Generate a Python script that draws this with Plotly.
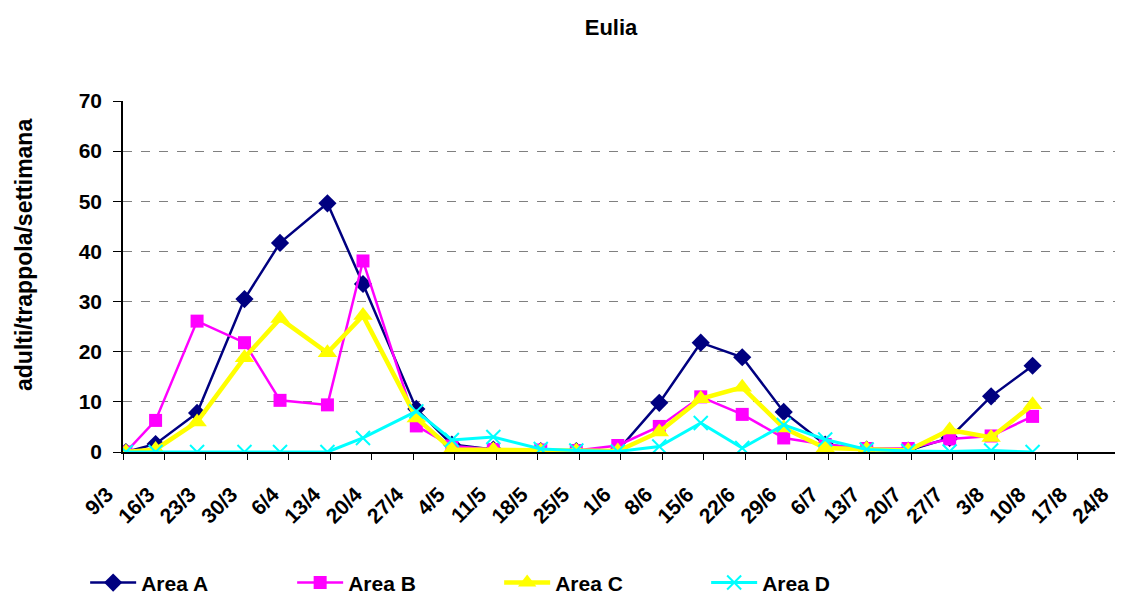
import plotly.graph_objects as go

dates = ["2007-03-09", "2007-03-14", "2007-03-21", "2007-03-29", "2007-04-04", "2007-04-12",
         "2007-04-18", "2007-04-27", "2007-05-03", "2007-05-10", "2007-05-18", "2007-05-24",
         "2007-05-31", "2007-06-07", "2007-06-14", "2007-06-21", "2007-06-28", "2007-07-05",
         "2007-07-12", "2007-07-19", "2007-07-26", "2007-08-02", "2007-08-09"]

area_a = [0, 1.6, 7.8, 30.5, 41.7, 49.6, 33.5, 8.6, 1.5, 0.5, 0.2, 0.2, 0.3, 9.8, 21.8, 18.9,
          8.0, 1.5, 0.5, 0.3, 2.8, 11.1, 17.2]
area_b = [0, 6.3, 26.1, 21.8, 10.3, 9.4, 38.1, 5.2, 1.2, 0.5, 0.4, 0.3, 1.3, 5.1, 11.0, 7.5,
          2.8, 1.5, 0.7, 0.7, 2.6, 3.2, 7.1]
area_c = [0, 0.5, 6.0, 18.8, 26.6, 19.8, 27.2, 6.8, 0.5, 0.4, 0.2, 0.2, 0.2, 4.0, 10.6, 12.9,
          4.8, 0.8, 0.6, 0.3, 4.4, 2.9, 9.4]
area_d = [0, 0, 0, 0, 0, 0, 2.8, 8.1, 2.4, 3.0, 0.6, 0.3, 0.1, 1.1, 5.8, 0.8,
          5.4, 2.5, 0.5, 0.2, 0.1, 0.3, 0]

series_names = ["Area A", "Area B", "Area C", "Area D"]
title_text = "Eulia"
y_title = "adulti/trappola/settimana"
x_start, x_end = "2007-03-09", "2007-08-24 02:00"

FONT = "Arial, Liberation Sans, sans-serif"
DAY = 24 * 3600 * 1000

common = dict(mode="lines+markers", xperiod=DAY, xperiodalignment="middle")

fig = go.Figure()
fig.add_trace(go.Scatter(x=dates, y=area_a, name=series_names[0], **common,
                         line=dict(color="#000080", width=2.5),
                         marker=dict(symbol="diamond", size=14, color="#000080")))
fig.add_trace(go.Scatter(x=dates, y=area_b, name=series_names[1], **common,
                         line=dict(color="#FF00FF", width=2.5),
                         marker=dict(symbol="square", size=13, color="#FF00FF")))
fig.add_trace(go.Scatter(x=dates, y=area_c, name=series_names[2], **common,
                         line=dict(color="#FFFF00", width=4.5),
                         marker=dict(symbol="triangle-up", size=17, color="#FFFF00")))
fig.add_trace(go.Scatter(x=dates, y=area_d, name=series_names[3], **common,
                         line=dict(color="#00FFFF", width=3),
                         marker=dict(symbol="x-thin-open", size=14, color="#00FFFF",
                                     line=dict(color="#00FFFF", width=2))))

# The page body has an 8px margin, so the figure is sized 8px smaller and everything is
# laid out 8px up/left of the reference positions.
fig.update_layout(
    width=1115, height=588,
    margin=dict(l=115, r=4, t=93, b=144, autoexpand=False),
    paper_bgcolor="white", plot_bgcolor="white",
    font=dict(family=FONT, size=16, color="black", weight="bold"),
    title=dict(text=title_text, x=603 / 1115, xref="container", y=1 - 19 / 588, yanchor="middle",
               xanchor="center", font=dict(family=FONT, size=22, weight="bold", color="black")),
    showlegend=True,
    legend=dict(orientation="h", x=-0.038, xanchor="left", y=-0.373, yanchor="middle",
                itemwidth=46, entrywidth=146, entrywidthmode="pixels",
                font=dict(family=FONT, size=21, weight="bold", color="black"),
                bgcolor="rgba(0,0,0,0)"),
    annotations=[dict(text=y_title, textangle=-90, xref="paper", yref="paper",
                      x=(16 - 115) / 996, y=(444 - 247) / 351, xanchor="center", yanchor="middle",
                      showarrow=False,
                      font=dict(family=FONT, size=23, weight="bold", color="black"))],
)

fig.update_xaxes(
    type="date", range=[x_start, x_end], automargin=False,
    tick0=x_start, dtick=7 * DAY, tickformat="%-d/%-m",
    tickangle=-45, ticks="outside", ticklen=6, tickcolor="black",
    ticklabelshift=-16, ticklabelstandoff=14,
    showline=True, linecolor="black", linewidth=1.5, showgrid=False, zeroline=False,
    tickfont=dict(family=FONT, size=21, weight="bold", color="black"),
)
fig.update_yaxes(
    range=[0, 70], dtick=10, tick0=0, automargin=False,
    ticks="outside", ticklen=8, tickcolor="black",
    showline=True, linecolor="black", linewidth=1.5, ticklabelstandoff=7,
    showgrid=True, gridcolor="#808080", griddash="dash", gridwidth=1, zeroline=False,
    tickfont=dict(family=FONT, size=21, weight="bold", color="black"),
)

fig.write_html("out.html")
